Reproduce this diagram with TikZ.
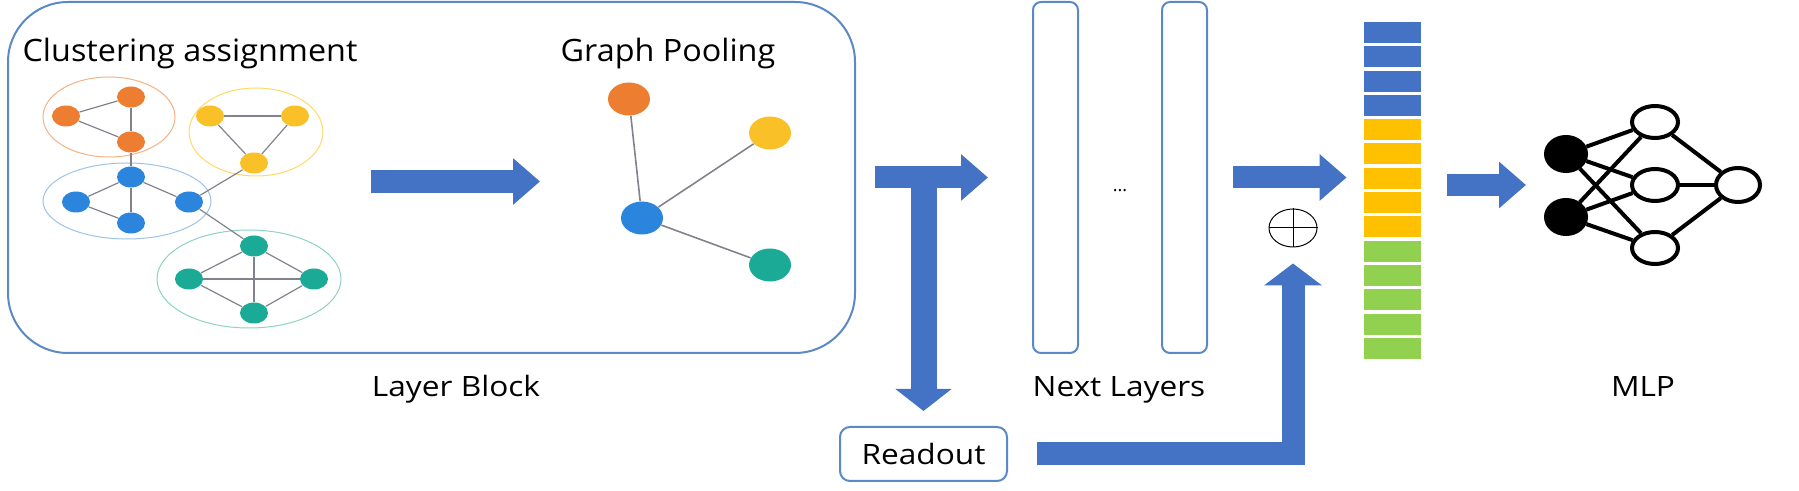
\documentclass[tikz,border=0pt]{standalone}
\usepackage{fontspec}
\setmainfont{Open Sans}
\newfontfamily\upfont[FakeStretch=1.05]{Open Sans}
\newfontfamily\lowfont[FakeStretch=1.13]{Open Sans}
\usetikzlibrary{arrows.meta,positioning,shapes.geometric}

\definecolor{boxblue}{RGB}{91,137,197}
\definecolor{fatblue}{RGB}{68,114,196}
\definecolor{gorange}{RGB}{237,125,49}
\definecolor{gyellow}{RGB}{250,192,40}
\definecolor{gblue}{RGB}{43,133,220}
\definecolor{gteal}{RGB}{26,170,150}
\definecolor{lorange}{RGB}{244,177,131}
\definecolor{lyellow}{RGB}{255,217,102}
\definecolor{lblue}{RGB}{157,195,230}
\definecolor{lteal}{RGB}{140,211,197}
\definecolor{edgegray}{RGB}{130,130,140}
\definecolor{vyellow}{RGB}{255,192,0}
\definecolor{vgreen}{RGB}{146,208,80}

\begin{document}
\begin{tikzpicture}[x=0.5pt,y=-0.5pt,node distance=31.5pt,
	dot/.style={ellipse,inner sep=0pt,minimum width=14pt,minimum height=10.5pt},
	bigdot/.style={ellipse,inner sep=0pt,minimum width=21pt,minimum height=16.5pt},
	cluster/.style={ellipse,draw,line width=0.5pt,inner sep=0pt},
	link/.style={draw=edgegray,line width=0.6pt},
	frame/.style={rectangle,draw=boxblue,line width=1pt},
	fat/.style={draw=fatblue,line width=11pt,-{Triangle[width=22.5pt,length=13.5pt]}},
	cell/.style={rectangle,inner sep=0pt,minimum width=28.5pt,minimum height=10.5pt},
	neuron/.style={ellipse,draw,line width=2pt,inner sep=0pt,minimum width=23pt,minimum height=16pt},
	lbl/.style={font=\lowfont\fontsize{14}{17}\selectfont,anchor=base},
	toplbl/.style={font=\upfont\fontsize{15.4}{18}\selectfont,anchor=base}]

\useasboundingbox (0,0) rectangle (1799,491);

% layer block
\node[frame,rounded corners=30pt,minimum width=423.5pt,minimum height=175.5pt]	(block) at (431.5,177.5) {};

\node[cluster,draw=lorange,minimum width=66pt,minimum height=40pt]	(corange) at (109,117) {};
\node[cluster,draw=lyellow,minimum width=67pt,minimum height=44pt]	(cyellow) at (256,132) {};
\node[cluster,draw=lblue,minimum width=84pt,minimum height=38pt]	(cblue) at (127,201) {};
\node[cluster,draw=lteal,minimum width=92pt,minimum height=49pt]	(cteal) at (249,279) {};

\node[dot,fill=gorange]	(oa) at (131,97)	{};
\node[dot,fill=gorange]	(ob) at (66,116)	{};
\node[dot,fill=gorange]	(oc) at (131,142)	{};
\node[dot,fill=gyellow]	(ya) at (210,116)	{};
\node[dot,fill=gyellow]	(yb) at (295,116)	{};
\node[dot,fill=gyellow]	(yc) at (254,163)	{};
\node[dot,fill=gblue]	(ba) at (131,177)	{};
\node[dot,fill=gblue]	(bb) at (76,202)	{};
\node[dot,fill=gblue]	(bc) at (189,202)	{};
\node[dot,fill=gblue]	(bd) at (131,223)	{};
\node[dot,fill=gteal]	(ta) at (254,246)	{};
\node[dot,fill=gteal]	(tb) at (189,279)	{};
\node[dot,fill=gteal]	(tc) at (314,279)	{};
\node[dot,fill=gteal]	(td) at (254,313)	{};

\path[link] (oa)	edge (ob)
				edge (oc)
			(ob)	edge (oc)
			(oc)	edge (ba)
			(ya)	edge (yb)
				edge (yc)
			(yb)	edge (yc)
			(yc)	edge (bc)
			(ba)	edge (bb)
				edge (bc)
				edge (bd)
			(bb)	edge (bd)
			(bc)	edge (ta)
			(ta)	edge (tb)
				edge (tc)
				edge (td)
			(tb)	edge (tc)
				edge (td)
			(tc)	edge (td);

% pooled graph
\node[bigdot,fill=gorange]	(porange) at (629,99)	{};
\node[bigdot,fill=gyellow]	(pyellow) at (770,133)	{};
\node[bigdot,fill=gblue]	(pblue) at (642,218)	{};
\node[bigdot,fill=gteal]	(pteal) at (770,265)	{};

\path[link,line width=0.8pt] (pblue)	edge (porange)
						edge (pyellow)
						edge (pteal);

\coordinate (poolin) at (371,181.5);
\coordinate (poolout) at (540,181.5);
\draw[fat,line width=11.5pt] (poolin) -- (poolout);

\node[toplbl]	(clustertxt) at (190,62) {Clustering assignment};
\node[toplbl]	(pooltxt) at (668,62) {Graph Pooling};
\node[lbl]	(blocktxt) at (456,397) {Layer Block};

% next layers
\node[frame,rounded corners=4pt,minimum width=22.5pt,minimum height=175.5pt]	(col1) at (1055.5,177.5) {};
\node[frame,rounded corners=4pt,minimum width=22.5pt,minimum height=175.5pt]	(col2) at (1184.5,177.5) {};
\node[anchor=base,font=\fontsize{9}{10}\selectfont]	(dots) at (1120,192) {...};
\node[lbl]	(nexttxt) at (1119,397) {Next Layers};

\node[frame,rounded corners=5pt,minimum width=83.5pt,minimum height=27pt,font=\lowfont\fontsize{14}{17}\selectfont]	(readout) at (923.5,454) {Readout};
\node[ellipse,draw,line width=0.5pt,inner sep=0pt,minimum width=24pt,minimum height=19pt]	(plus) at (1293,228) {};
\draw[line width=0.5pt] (plus.north) -- (plus.south) (plus.west) -- (plus.east);

% readout vector
\foreach \i/\c in {1/fatblue,2/fatblue,3/fatblue,4/fatblue,5/vyellow,6/vyellow,7/vyellow,8/vyellow,9/vyellow,10/vgreen,11/vgreen,12/vgreen,13/vgreen,14/vgreen}
	\node[cell,fill=\c]	(c\i) at (1392.5,{32.5+(\i-1)*24.3}) {};

% mlp
\node[neuron,fill=black,minimum width=20pt,minimum height=17pt]	(i1) at (1566,154) {};
\node[neuron,fill=black,minimum width=20pt,minimum height=17pt]	(i2) [below of=i1] {};
\node[neuron]	(h1) at (1655,122) {};
\node[neuron]	(h2) [below of=h1] {};
\node[neuron]	(h3) [below of=h2] {};
\node[neuron,minimum width=22pt,minimum height=17pt]	(out) at (1738,185) {};
\node[lbl]	(mlptxt) at (1643,397) {MLP};

\path[line width=2pt] (i1)	edge (h1)
					edge (h2)
					edge (h3)
				(i2)	edge (h1)
					edge (h2)
					edge (h3)
				(h1)	edge (out)
				(h2)	edge (out)
				(h3)	edge (out);

% big arrows
\path (readout.north |- block.east) coordinate (tee);
\path (c1.west |- col2.east) coordinate (vecin);
\path (c1.east |- h2) coordinate (vecout);
\path (i1.west |- h2) coordinate (mlpin);

\draw[fat] ([xshift=9.5pt]block.east) -- ([xshift=-22pt]col1.west);
\draw[fat,line width=13pt,-{Triangle[width=27.5pt,length=11pt]}] (tee) -- ([yshift=7.5pt]readout.north);
\draw[fat,line width=11.5pt,-{Triangle[width=28.5pt,length=11pt]}] ([xshift=14.5pt]readout.east) -| ([yshift=-8pt]plus.south);
\draw[fat] ([xshift=12.5pt]col2.east) -- ([xshift=-8.5pt]vecin);
\draw[fat] ([xshift=13pt]vecout) -- ([xshift=-9pt]mlpin);

\end{tikzpicture}
\end{document}
